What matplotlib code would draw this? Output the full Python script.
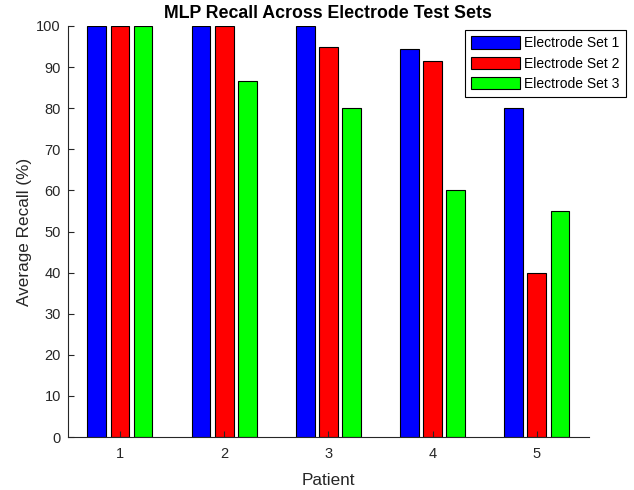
import numpy as np
import matplotlib.pyplot as plt

plt.rcParams['font.family'] = ['Liberation Sans', 'DejaVu Sans']

patients = [1, 2, 3, 4, 5]
set1 = [100, 100, 100, 94.3, 80]
set2 = [100, 100, 95, 91.4, 40]
set3 = [100, 86.67, 80, 60, 55]
labels = ['Electrode Set 1', 'Electrode Set 2', 'Electrode Set 3']
colors = ['#0000ff', '#ff0000', '#00ff00']

fig = plt.figure(figsize=(6.34, 4.9), dpi=100)
ax = fig.add_axes([0.107, 0.108, 0.822, 0.839])

x = np.array(patients)
w = 0.18
off = 0.222
for i, (vals, lab, c) in enumerate(zip([set1, set2, set3], labels, colors)):
    ax.bar(x + (i - 1) * off, vals, width=w, color=c, edgecolor='black',
           linewidth=0.8, label=lab)

ax.set_xlim(0.5, 5.5)
ax.set_ylim(0, 100)
ax.set_xticks(patients)
ax.set_yticks(np.arange(0, 101, 10))
ax.spines['top'].set_visible(False)
ax.spines['right'].set_visible(False)
for s in ['left', 'bottom']:
    ax.spines[s].set_color('#262626')
ax.tick_params(direction='in', length=4, colors='#262626', labelsize=10.5)
ax.tick_params(axis='y', pad=5)
ax.tick_params(axis='x', pad=7)

ax.set_xlabel('Patient', fontsize=12.3, color='#262626', labelpad=9)
ax.set_ylabel('Average Recall (%)', fontsize=12.3, color='#262626', labelpad=3)
ax.set_title('MLP Recall Across Electrode Test Sets', fontsize=12.8,
             fontweight='bold', pad=6)

leg = ax.legend(loc='upper right', bbox_to_anchor=(626 / 634, 1 - 30 / 490),
                bbox_transform=fig.transFigure, fancybox=False, edgecolor='black',
                framealpha=1, fontsize=10, handlelength=3.5, handleheight=1.0,
                borderpad=0.45, labelspacing=0.45, handletextpad=0.3,
                borderaxespad=0)
leg.get_frame().set_linewidth(0.8)

fig.savefig('out.png', dpi=100)
